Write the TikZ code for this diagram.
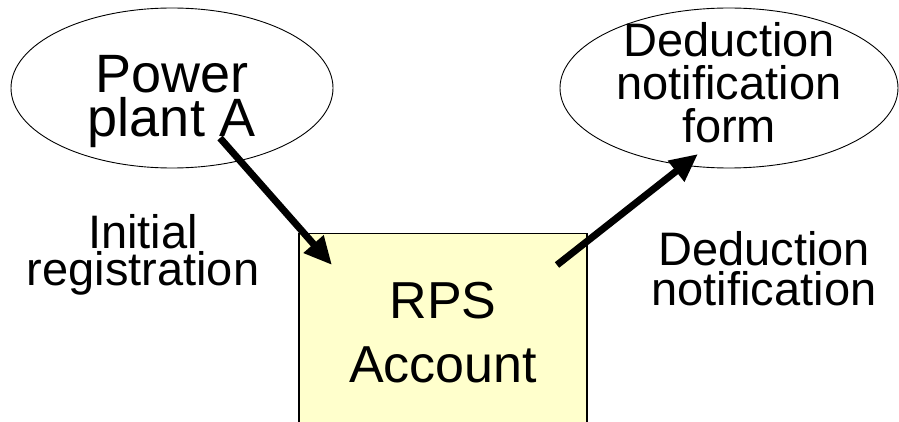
\documentclass[tikz,border=0pt]{standalone}
\usepackage{fontspec}
\setmainfont{Liberation Sans}
\usetikzlibrary{shapes.geometric,arrows.meta}
\definecolor{boxfill}{HTML}{FFFFCC}
\begin{document}
\begin{tikzpicture}[x=1pt,y=1pt,
  oval/.style={ellipse,draw,line width=0.9pt,inner sep=0pt,align=center},
  acct/.style={rectangle,draw,line width=1.3pt,fill=boxfill,inner sep=0pt,align=center,
    minimum width=288pt,minimum height=200pt,anchor=north},
  lbl/.style={align=center,anchor=base,inner sep=0pt},
  flow/.style={line width=7pt,-{Triangle[length=28pt,width=25pt]}}
]
\useasboundingbox (0,0) rectangle (899,-422);
\clip (0,0) rectangle (899,-422);
\node[oval,minimum width=322pt,minimum height=160pt,text height=98pt,text depth=0pt,
  font=\fontsize{54pt}{44pt}\selectfont] (pa) at (172,-88) {Power\\plant A};
\node[oval,minimum width=338pt,minimum height=160pt,text height=110pt,text depth=0pt,
  font=\fontsize{47pt}{43pt}\selectfont] (form) at (729,-88) {Deduction\\notification\\form};
\node[acct,text height=98pt,text depth=0pt,
  font=\fontsize{52pt}{64pt}\selectfont] (rps) at (443,-233) {RPS\\Account};
\node[lbl,font=\fontsize{47pt}{37pt}\selectfont] (init) at (143,-285) {Initial\\registration};
\node[lbl,font=\fontsize{47pt}{40pt}\selectfont] (ded) at (764,-305) {Deduction\\notification};
\draw[flow] ([shift={(48,-50)}]pa.center) -- ([shift={(-111,-32)}]rps.north);
\draw[flow] ([shift={(114,-32)}]rps.north) -- ([shift={(-31,-66)}]form.center);
\end{tikzpicture}
\end{document}
